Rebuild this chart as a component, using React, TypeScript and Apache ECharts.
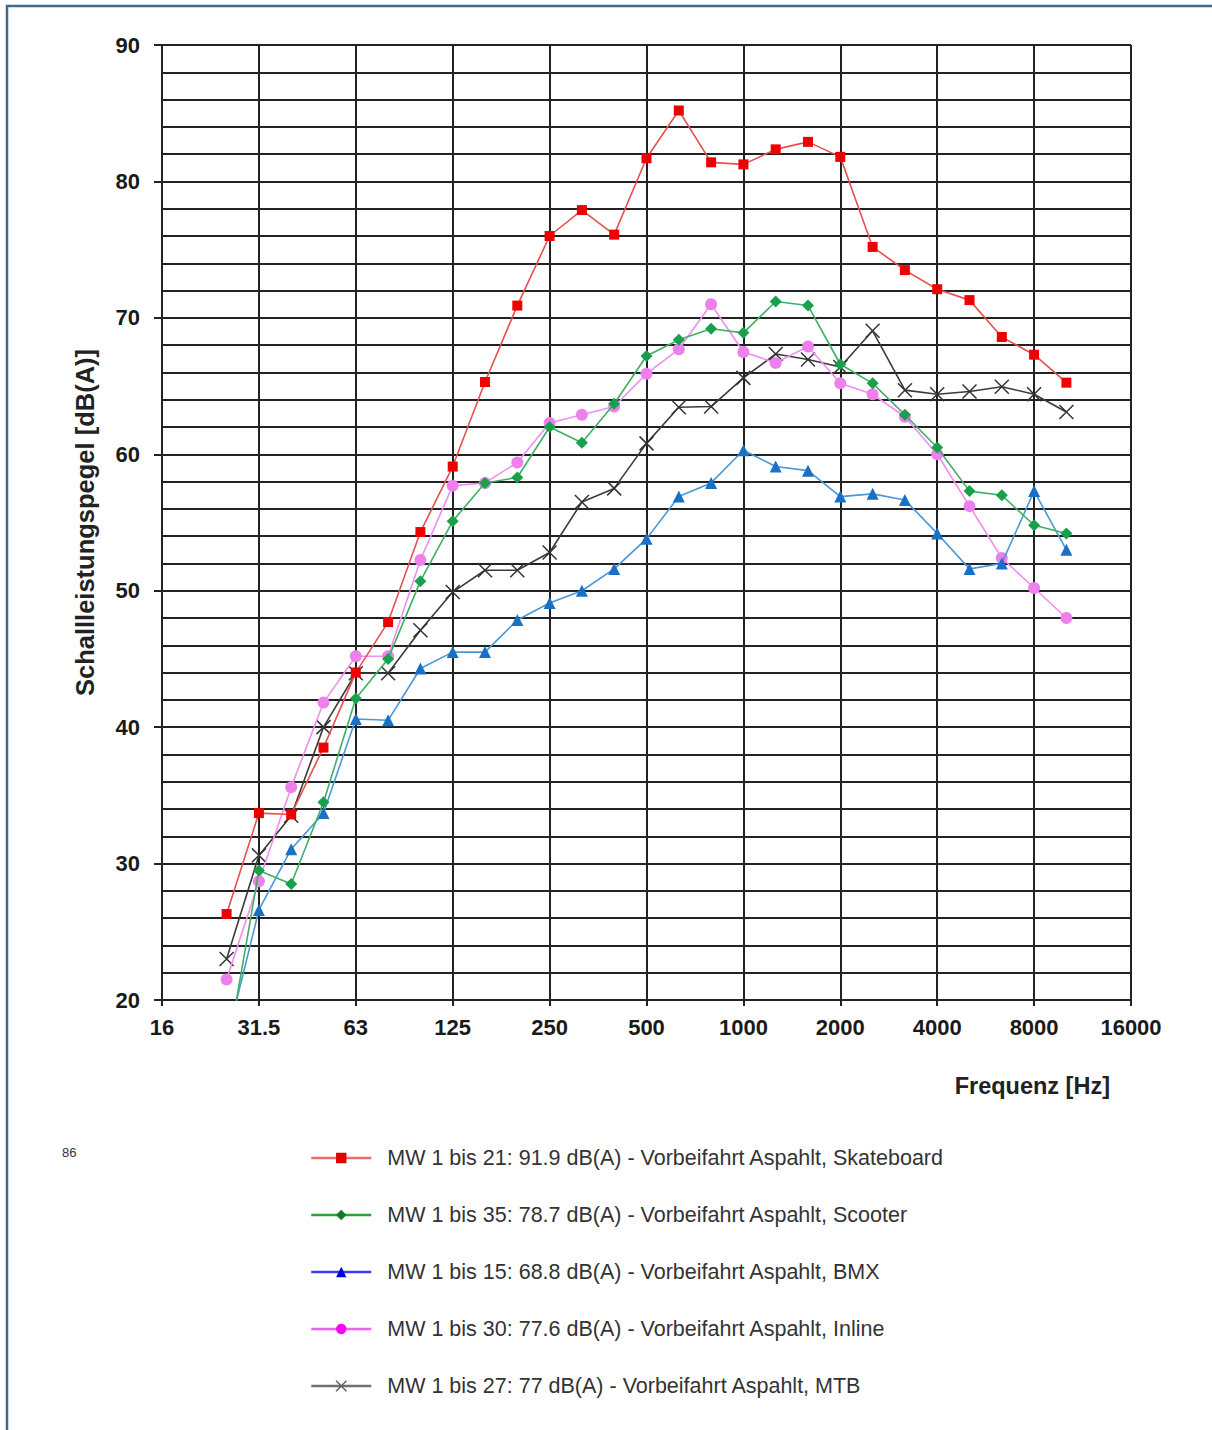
import React, { useEffect, useRef } from "react";
import * as echarts from "echarts";

// Third-octave band centre frequencies (Hz)
const bands = [25, 31.5, 40, 50, 63, 80, 100, 125, 160, 200, 250, 315, 400, 500, 630, 800, 1000, 1250, 1600, 2000, 2500, 3150, 4000, 5000, 6300, 8000, 10000];
// Octave tick labels (every 3rd third-octave step from 16 Hz)
const tickLabels = ["16", "31.5", "63", "125", "250", "500", "1000", "2000", "4000", "8000", "16000"];

const skateboard = [26.3, 33.7, 33.6, 38.5, 44.0, 47.7, 54.3, 59.1, 65.3, 70.9, 76.0, 77.9, 76.1, 81.7, 85.2, 81.4, 81.25, 82.35, 82.9, 81.8, 75.2, 73.5, 72.1, 71.3, 68.6, 67.3, 65.25];
const scooter = [15.8, 29.5, 28.5, 34.5, 42.1, 45.0, 50.7, 55.1, 57.9, 58.3, 62.0, 60.85, 63.7, 67.2, 68.4, 69.2, 68.9, 71.2, 70.9, 66.6, 65.2, 62.9, 60.5, 57.3, 57.0, 54.8, 54.2];
const bmx = [17.0, 26.6, 31.05, 33.7, 40.6, 40.5, 44.3, 45.5, 45.5, 47.85, 49.1, 50.0, 51.6, 53.8, 56.9, 57.9, 60.3, 59.1, 58.8, 56.9, 57.1, 56.65, 54.2, 51.6, 52.0, 57.3, 53.0];
const inline = [21.5, 28.7, 35.6, 41.8, 45.2, 45.2, 52.25, 57.7, 57.9, 59.4, 62.3, 62.9, 63.5, 65.9, 67.7, 71.0, 67.5, 66.7, 67.9, 65.2, 64.4, 62.75, 60.0, 56.2, 52.4, 50.2, 48.0];
const mtb = [23.0, 30.6, 33.5, 40.0, 43.95, 43.95, 47.1, 49.9, 51.5, 51.5, 52.8, 56.5, 57.5, 60.8, 63.45, 63.5, 65.6, 67.35, 66.95, 66.4, 69.05, 64.7, 64.4, 64.6, 64.95, 64.4, 63.1];

const seriesNames = [
  "MW 1 bis 21: 91.9 dB(A) - Vorbeifahrt Aspahlt, Skateboard",
  "MW 1 bis 35: 78.7 dB(A) - Vorbeifahrt Aspahlt, Scooter",
  "MW 1 bis 15: 68.8 dB(A) - Vorbeifahrt Aspahlt, BMX",
  "MW 1 bis 30: 77.6 dB(A) - Vorbeifahrt Aspahlt, Inline",
  "MW 1 bis 27: 77 dB(A) - Vorbeifahrt Aspahlt, MTB",
];

const FONT = "Arial, 'Liberation Sans', sans-serif";
const CROSS = "path://M0,0L10,10M10,0L0,10";

const bandPos = (f: number) => Math.round(3 * Math.log2(f / 16));
const toData = (vals: number[]) => vals.map((v, i) => [bandPos(bands[i]), v]);

export default function App() {
  const ref = useRef<HTMLDivElement>(null);
  useEffect(() => {
    document.body.style.margin = "0";
    const chart = echarts.init(ref.current!, null, { renderer: "svg" });

    const defs = [
      { data: skateboard, line: "#e65050", mark: "#ee0000", symbol: "rect", size: 10, legLine: "#f06a6a", legMark: "#e00000" },
      { data: scooter, line: "#3cb064", mark: "#18a04a", symbol: "diamond", size: 12, legLine: "#2e9e3e", legMark: "#137a26" },
      { data: bmx, line: "#4a98d8", mark: "#1a70c4", symbol: "triangle", size: 12, legLine: "#3a3af0", legMark: "#0000dd" },
      { data: inline, line: "#f08ef0", mark: "#ee80ee", symbol: "circle", size: 12, legLine: "#f060f0", legMark: "#ff00ff" },
      { data: mtb, line: "#3a3a3a", mark: "#333333", symbol: CROSS, size: 14, legLine: "#707070", legMark: "#606060" },
    ];

    const series = defs.map((d, i) => {
      const isCross = d.symbol === CROSS;
      return {
        name: seriesNames[i],
        type: "line",
        data: toData(d.data),
        symbol: d.symbol,
        symbolSize: d.size,
        clip: true,
        lineStyle: { color: d.line, width: 1.6 },
        itemStyle: isCross
          ? { color: "rgba(0,0,0,0)", borderColor: d.mark, borderWidth: 1.5 }
          : { color: d.mark, borderWidth: 0 },
        emphasis: { disabled: true },
        z: 5 - i,
      };
    });

    chart.setOption({
      animation: false,
      backgroundColor: "#ffffff",
      textStyle: { fontFamily: FONT },
      grid: { left: 162, top: 45, width: 969, height: 955, containLabel: false },
      xAxis: {
        type: "value",
        min: 0,
        max: 30,
        interval: 3,
        name: "Frequenz [Hz]",
        nameLocation: "end",
        nameGap: -21,
        nameTextStyle: { fontFamily: FONT, fontSize: 23.5, fontWeight: "bold", color: "#222", align: "right", verticalAlign: "top", padding: [74, 0, 0, 0] },
        axisLine: { show: true, lineStyle: { color: "#222", width: 2 } },
        axisTick: { show: true, length: 6, inside: false, lineStyle: { color: "#222", width: 2 } },
        axisLabel: {
          fontFamily: FONT, fontSize: 22, fontWeight: "bold", color: "#1a1a1a", margin: 16,
          formatter: (v: number) => tickLabels[Math.round(v / 3)] ?? "",
        },
        splitLine: { show: true, lineStyle: { color: "#222", width: 2 } },
      },
      yAxis: {
        type: "value",
        min: 20,
        max: 90,
        interval: 10,
        name: "Schallleistungspegel [dB(A)]",
        nameLocation: "middle",
        nameGap: 64,
        nameTextStyle: { fontFamily: FONT, fontSize: 25.5, fontWeight: "bold", color: "#222" },
        axisLine: { show: true, lineStyle: { color: "#222", width: 2 } },
        axisTick: { show: true, length: 8, lineStyle: { color: "#222", width: 2 } },
        minorTick: { show: false, splitNumber: 5 },
        minorSplitLine: { show: true, lineStyle: { color: "#222", width: 2 } },
        axisLabel: { fontFamily: FONT, fontSize: 22, fontWeight: "bold", color: "#1a1a1a", margin: 22 },
        splitLine: { show: true, lineStyle: { color: "#222", width: 2 } },
      },
      legend: {
        orient: "vertical",
        left: 305,
        top: 1142,
        itemWidth: 60,
        itemHeight: 13,
        itemGap: 35,
        selectedMode: false,
        textStyle: { fontFamily: FONT, fontSize: 21.5, color: "#333", lineHeight: 20, padding: [0, 0, 0, 11] },
        data: defs.map((d, i) => ({
          name: seriesNames[i],
          itemStyle: d.symbol === CROSS
            ? { color: "rgba(0,0,0,0)", borderColor: d.legMark, borderWidth: 1.4 }
            : { color: d.legMark },
          lineStyle: { color: d.legLine, width: 2.5 },
        })),
      },
      graphic: [
        { type: "rect", shape: { x: 7, y: 6, width: 1500, height: 1600 }, style: { fill: "none", stroke: "#3f6b88", lineWidth: 2.5 }, silent: true },
        { type: "text", x: 62, y: 1146, style: { text: "86", fontFamily: FONT, fontSize: 13, fill: "#333" }, silent: true },
      ],
      series,
    });
    return () => chart.dispose();
  }, []);
  return <div ref={ref} style={{ width: 1212, height: 1430 }} />;
}
